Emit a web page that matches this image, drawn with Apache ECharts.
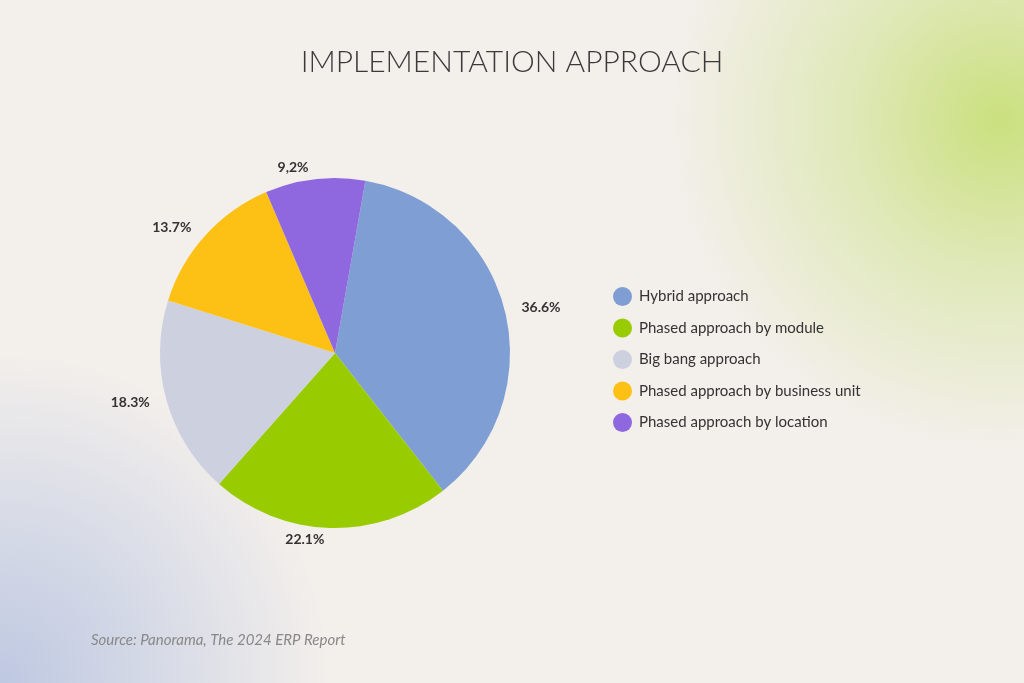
<!DOCTYPE html>
<html><head><meta charset="utf-8">
<script src="https://cdn.jsdelivr.net/npm/echarts@6/dist/echarts.min.js"></script>
<style>
html,body{margin:0;padding:0;width:1024px;height:683px;overflow:hidden;}
body{background:
 radial-gradient(circle at 1000px 120px, rgba(200,223,120,0.95) 0px, rgba(210,228,150,0.6) 150px, rgba(243,239,235,0) 330px),
 radial-gradient(circle at 0px 683px, rgba(190,200,225,1) 0px, rgba(200,208,228,0.7) 150px, rgba(243,239,235,0) 330px),
 #f3efeb;}
#c{width:1024px;height:683px;}
</style></head><body>
<div id="c"></div>
<script>
const categories=["Hybrid approach","Phased approach by module","Big bang approach","Phased approach by business unit","Phased approach by location"];
const values=[36.6,22.1,18.3,13.7,9.2];
const labels=["36.6%","22.1%","18.3%","13.7%","9,2%"];
const colors=["#7f9ed4","#99cc00","#cdd0de","#fdc115","#8f68e0"];
const chart=echarts.init(document.getElementById('c'),null,{renderer:'canvas'});
chart.setOption({
 backgroundColor:'transparent',
 title:[{text:'IMPLEMENTATION APPROACH',left:'center',top:42,textStyle:{fontFamily:'Lato',fontWeight:300,fontSize:30,color:'#3a3a3a'}},
  {text:'Source: Panorama, The 2024 ERP Report',left:86,top:628,textStyle:{fontFamily:'Lato',fontStyle:'italic',fontWeight:'normal',fontSize:15,color:'#888'}}],
 legend:{orient:'vertical',left:608,top:282,itemGap:12.5,icon:'circle',itemWidth:19,itemHeight:19,
  textStyle:{fontFamily:'Lato',fontSize:15,color:'#333',padding:[0,0,0,2]},data:categories},
 series:[{type:'pie',center:[335,353],radius:[0,175],startAngle:80,clockwise:true,
  label:{show:true,position:'outside',formatter:p=>labels[p.dataIndex],fontFamily:'Lato',fontWeight:'bold',fontSize:14,color:'#333'},
  labelLine:{show:false,length:12,length2:0},
  itemStyle:{borderColor:'#fff',borderWidth:0},
  data:categories.map((c,i)=>({name:c,value:values[i],itemStyle:{color:colors[i]}}))}]
});
</script></body></html>
